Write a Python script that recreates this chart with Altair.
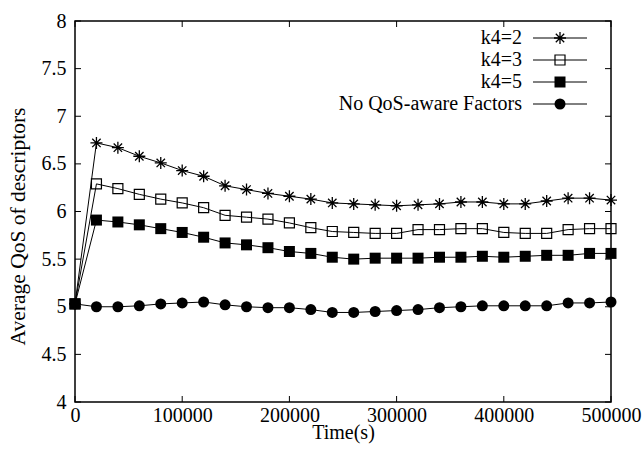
import altair as alt
import pandas as pd

# Simulation time (s) at which the average QoS was sampled
time_s = [0, 20000, 40000, 60000, 80000, 100000, 120000, 140000, 160000,
          180000, 200000, 220000, 240000, 260000, 280000, 300000, 320000,
          340000, 360000, 380000, 400000, 420000, 440000, 460000, 480000,
          500000]

# Average QoS of descriptors for each configuration
qos_k4_2 = [5.03, 6.72, 6.67, 6.58, 6.51, 6.43, 6.37, 6.27, 6.23, 6.19, 6.16,
            6.13, 6.09, 6.08, 6.07, 6.06, 6.07, 6.08, 6.10, 6.10, 6.08, 6.08,
            6.11, 6.14, 6.14, 6.12]
qos_k4_3 = [5.03, 6.29, 6.24, 6.18, 6.13, 6.09, 6.04, 5.96, 5.94, 5.92, 5.88,
            5.83, 5.79, 5.78, 5.77, 5.77, 5.81, 5.81, 5.82, 5.82, 5.78, 5.77,
            5.77, 5.81, 5.82, 5.82]
qos_k4_5 = [5.03, 5.91, 5.89, 5.86, 5.82, 5.78, 5.73, 5.67, 5.65, 5.62, 5.58,
            5.56, 5.52, 5.50, 5.51, 5.51, 5.51, 5.52, 5.52, 5.53, 5.52, 5.53,
            5.54, 5.54, 5.56, 5.56]
qos_no_factors = [5.03, 5.00, 5.00, 5.01, 5.03, 5.04, 5.05, 5.02, 5.00, 4.99,
                  4.99, 4.97, 4.94, 4.94, 4.95, 4.96, 4.97, 4.99, 5.00, 5.01,
                  5.01, 5.01, 5.01, 5.04, 5.04, 5.05]

series_names = ["k4=2", "k4=3", "k4=5", "No QoS-aware Factors"]
x_ticks = [0, 100000, 200000, 300000, 400000, 500000]
y_ticks = [4, 4.5, 5, 5.5, 6, 6.5, 7, 7.5, 8]

W, H = 536, 381
FONT = "Liberation Serif"
FS = 20
TICK = 6

# asterisk marker: plus overlaid with a cross
STAR = "M-1,0L1,0M0,-1L0,1M-0.7,-0.7L0.7,0.7M-0.7,0.7L0.7,-0.7"
marker_styles = [
    dict(shape=STAR, size=144, filled=False, sw=1.3),
    dict(shape="square", size=100, filled=False, sw=1.2),
    dict(shape="square", size=121, filled=True, sw=1),
    dict(shape="circle", size=121, filled=True, sw=1),
]

rows = []
for name, vals in zip(series_names, [qos_k4_2, qos_k4_3, qos_k4_5, qos_no_factors]):
    for t, v in zip(time_s, vals):
        rows.append({"series": name, "time": t, "qos": v})
df = pd.DataFrame(rows)

x_scale = alt.Scale(domain=[0, 500000], nice=False, zero=False)
y_scale = alt.Scale(domain=[4, 8], nice=False, zero=False)

# identical axis definitions in every layer so they merge into one
x_axis = alt.Axis(values=x_ticks, format="d", title="Time(s)",
                  labelPadding=3, titleY=30, titleBaseline="middle")
y_axis = alt.Axis(values=y_ticks, format="~g", title="Average QoS of descriptors",
                  labelPadding=9, titleX=-57, titleY=205, titleFontSize=21.5,
                  titleBaseline="middle", titleAlign="center")
x_enc = alt.X("time:Q", scale=x_scale, axis=x_axis)
y_enc = alt.Y("qos:Q", scale=y_scale, axis=y_axis)

lines = alt.Chart(df).mark_line(color="black", strokeWidth=1).encode(
    x=x_enc, y=y_enc, detail="series:N"
)

layers = [lines]
for name, st in zip(series_names, marker_styles):
    layers.append(
        alt.Chart(df)
        .transform_filter(alt.datum.series == name)
        .mark_point(shape=st["shape"], size=st["size"], filled=st["filled"],
                    color="black", strokeWidth=st["sw"], opacity=1)
        .encode(x=x_enc, y=y_enc)
    )

# key in the upper-right corner: label, then line sample with its marker
for i, (name, st) in enumerate(zip(series_names, marker_styles)):
    row_y = 17 + 22 * i
    key = alt.Chart(pd.DataFrame({"series": [name]}))
    layers.append(
        key.mark_text(align="right", baseline="middle", font=FONT, fontSize=FS,
                      color="black")
        .encode(x=alt.value(447), y=alt.value(row_y), text="series:N")
    )
    layers.append(
        key.mark_rule(color="black", strokeWidth=1)
        .encode(x=alt.value(458), x2=alt.value(512), y=alt.value(row_y))
    )
    layers.append(
        key.mark_point(shape=st["shape"], size=st["size"], filled=st["filled"],
                       color="black", strokeWidth=st["sw"], opacity=1)
        .encode(x=alt.value(485), y=alt.value(row_y))
    )

# inward tick marks on all four sides of the frame
xt = alt.Chart(pd.DataFrame({"time": x_ticks}))
yt = alt.Chart(pd.DataFrame({"qos": y_ticks}))
layers += [
    xt.mark_rule(color="black", strokeWidth=1).encode(
        x=x_enc, y=alt.value(H), y2=alt.value(H - TICK)),
    xt.mark_rule(color="black", strokeWidth=1).encode(
        x=x_enc, y=alt.value(0), y2=alt.value(TICK)),
    yt.mark_rule(color="black", strokeWidth=1).encode(
        y=y_enc, x=alt.value(0), x2=alt.value(TICK)),
    yt.mark_rule(color="black", strokeWidth=1).encode(
        y=y_enc, x=alt.value(W), x2=alt.value(W - TICK)),
]

chart = (
    alt.layer(*layers)
    .properties(
        width=W, height=H,
        autosize=alt.AutoSizeParams(type="none"),
        padding={"left": 75, "top": 21, "right": 31, "bottom": 50},
        background="white",
    )
    .configure_view(stroke="black", strokeWidth=1.5)
    .configure_axis(
        domain=False, ticks=False, grid=False, labelFlush=False,
        labelFont=FONT, labelFontSize=FS, labelColor="black",
        titleFont=FONT, titleFontSize=FS, titleFontWeight="normal",
        titleColor="black",
    )
)

chart.save("out.html", embed_options={"renderer": "svg", "actions": False})
